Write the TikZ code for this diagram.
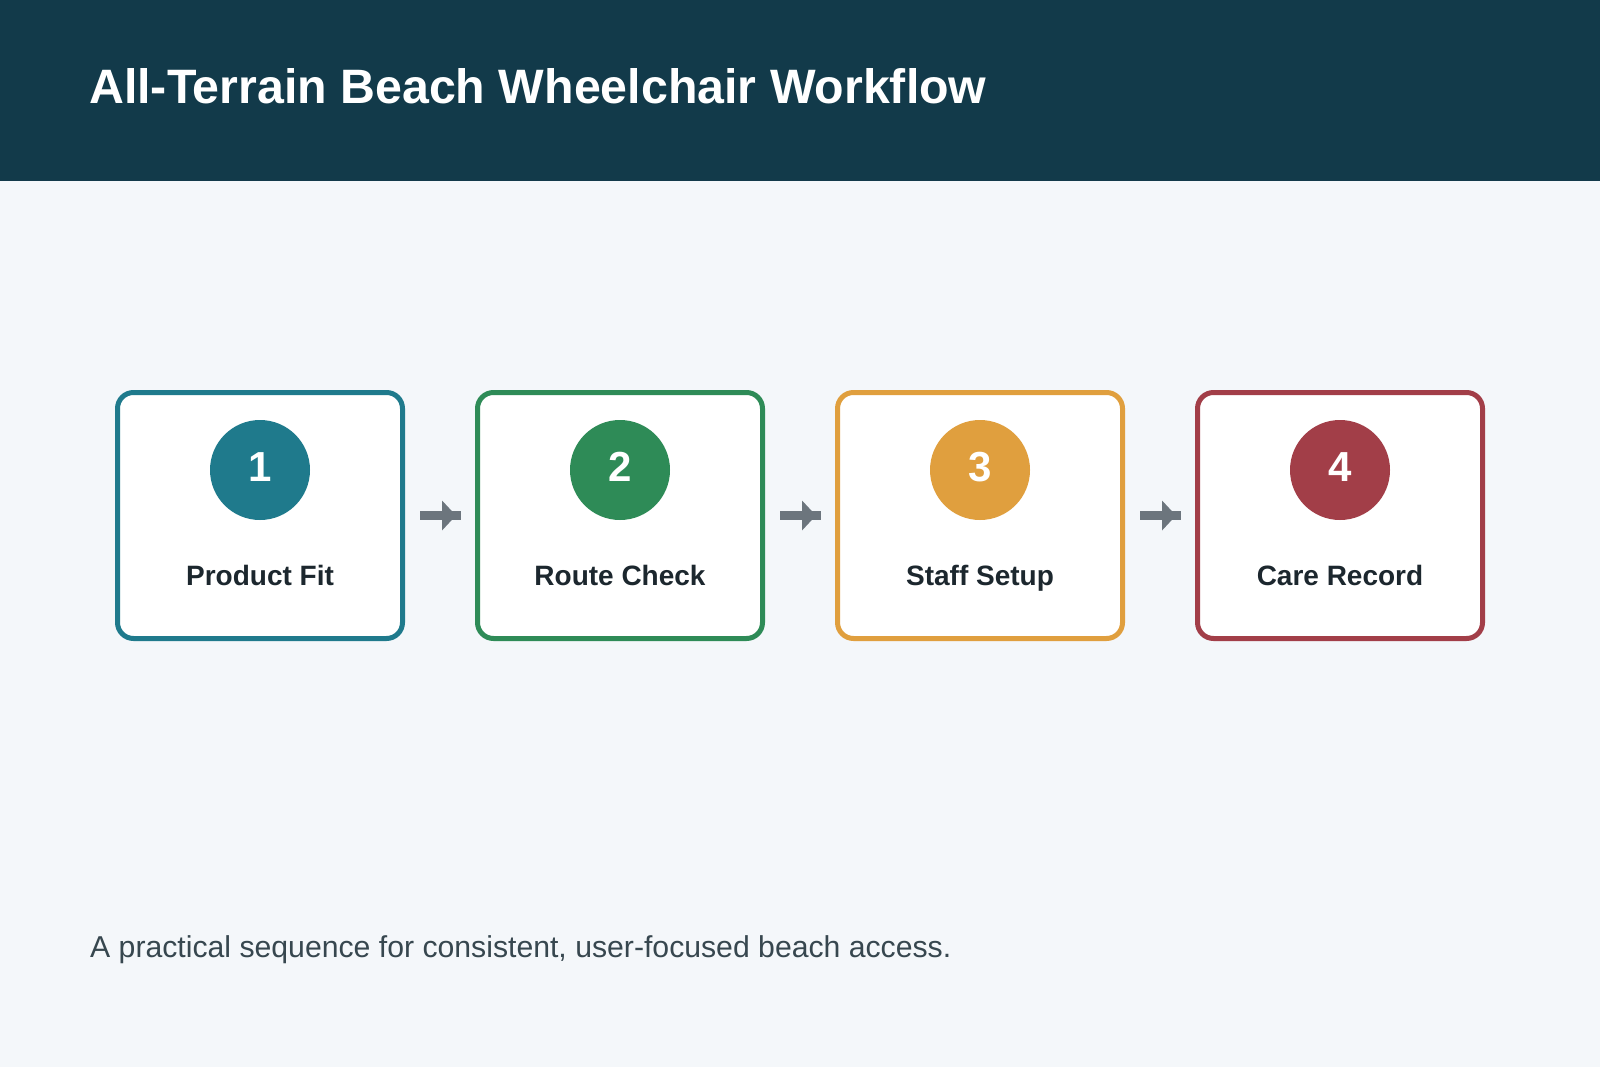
\documentclass[tikz,border=0pt]{standalone}
\usepackage{fontspec}
\setmainfont{Liberation Sans}
\usetikzlibrary{arrows.meta}
\definecolor{pagebg}{HTML}{F4F7FA}
\definecolor{headbg}{HTML}{123A4A}
\definecolor{fitcol}{HTML}{1F7A8C}
\definecolor{routecol}{HTML}{2E8B57}
\definecolor{staffcol}{HTML}{E09F3E}
\definecolor{carecol}{HTML}{A23E48}
\definecolor{arrowgrey}{HTML}{6C757D}
\definecolor{labeltext}{HTML}{1C272E}
\definecolor{notetext}{HTML}{37474F}
\tikzset{
	stepbox/.style={draw, fill=white, line width=5pt, rounded corners=16pt,
		minimum width=285pt, minimum height=246pt, inner sep=0pt},
	stepdot/.style={circle, minimum size=100pt, inner sep=0pt, text=white,
		font=\fontsize{42}{42}\selectfont\bfseries},
	steplabel/.style={anchor=base, text=labeltext,
		font=\fontsize{28}{28}\selectfont\bfseries},
	linkarrow/.style={line width=9pt, arrowgrey, shorten <=15pt, shorten >=14pt,
		-{Triangle[length=14pt,width=30pt,line width=0pt]Rectangle[length=5pt,width=9pt,line width=0pt]}}
}
\newcommand{\drawStep}[5]{
	\node[stepbox, draw=#3] (#1) at (#2,515.5) {};
	\node[stepdot, fill=#3] (#1Dot) at (#2,470) {\raisebox{3pt}[\height][\depth]{#4}};
	\node[steplabel] (#1Label) at (#2,585) {#5};
}
\newcommand{\drawLinkArrow}[2]{
	\draw[linkarrow] (#1.east) -- (#2.west);
}
\begin{document}
\begin{tikzpicture}[x=1pt,y=-1pt]
		\fill[pagebg] (0,0) rectangle (1600,1067);
		\fill[headbg] (0,0) rectangle (1600,181);
		\node[anchor=base west, inner sep=0pt, text=white,
			font=\fontsize{48.3}{48.3}\selectfont\bfseries] (title) at (89,104)
			{All-Terrain Beach Wheelchair Workflow};

		\drawStep{fit}{260}{fitcol}{1}{Product Fit}
		\drawStep{route}{620}{routecol}{2}{Route Check}
		\drawStep{staff}{980}{staffcol}{3}{Staff Setup}
		\drawStep{care}{1340}{carecol}{4}{Care Record}
		\drawLinkArrow{fit}{route}
		\drawLinkArrow{route}{staff}
		\drawLinkArrow{staff}{care}

		\node[anchor=base west, inner sep=0pt, text=notetext,
			font=\fontsize{30.2}{30.2}\selectfont] (note) at (90,957)
			{A practical sequence for consistent, user-focused beach access.};
	\end{tikzpicture}
\end{document}
